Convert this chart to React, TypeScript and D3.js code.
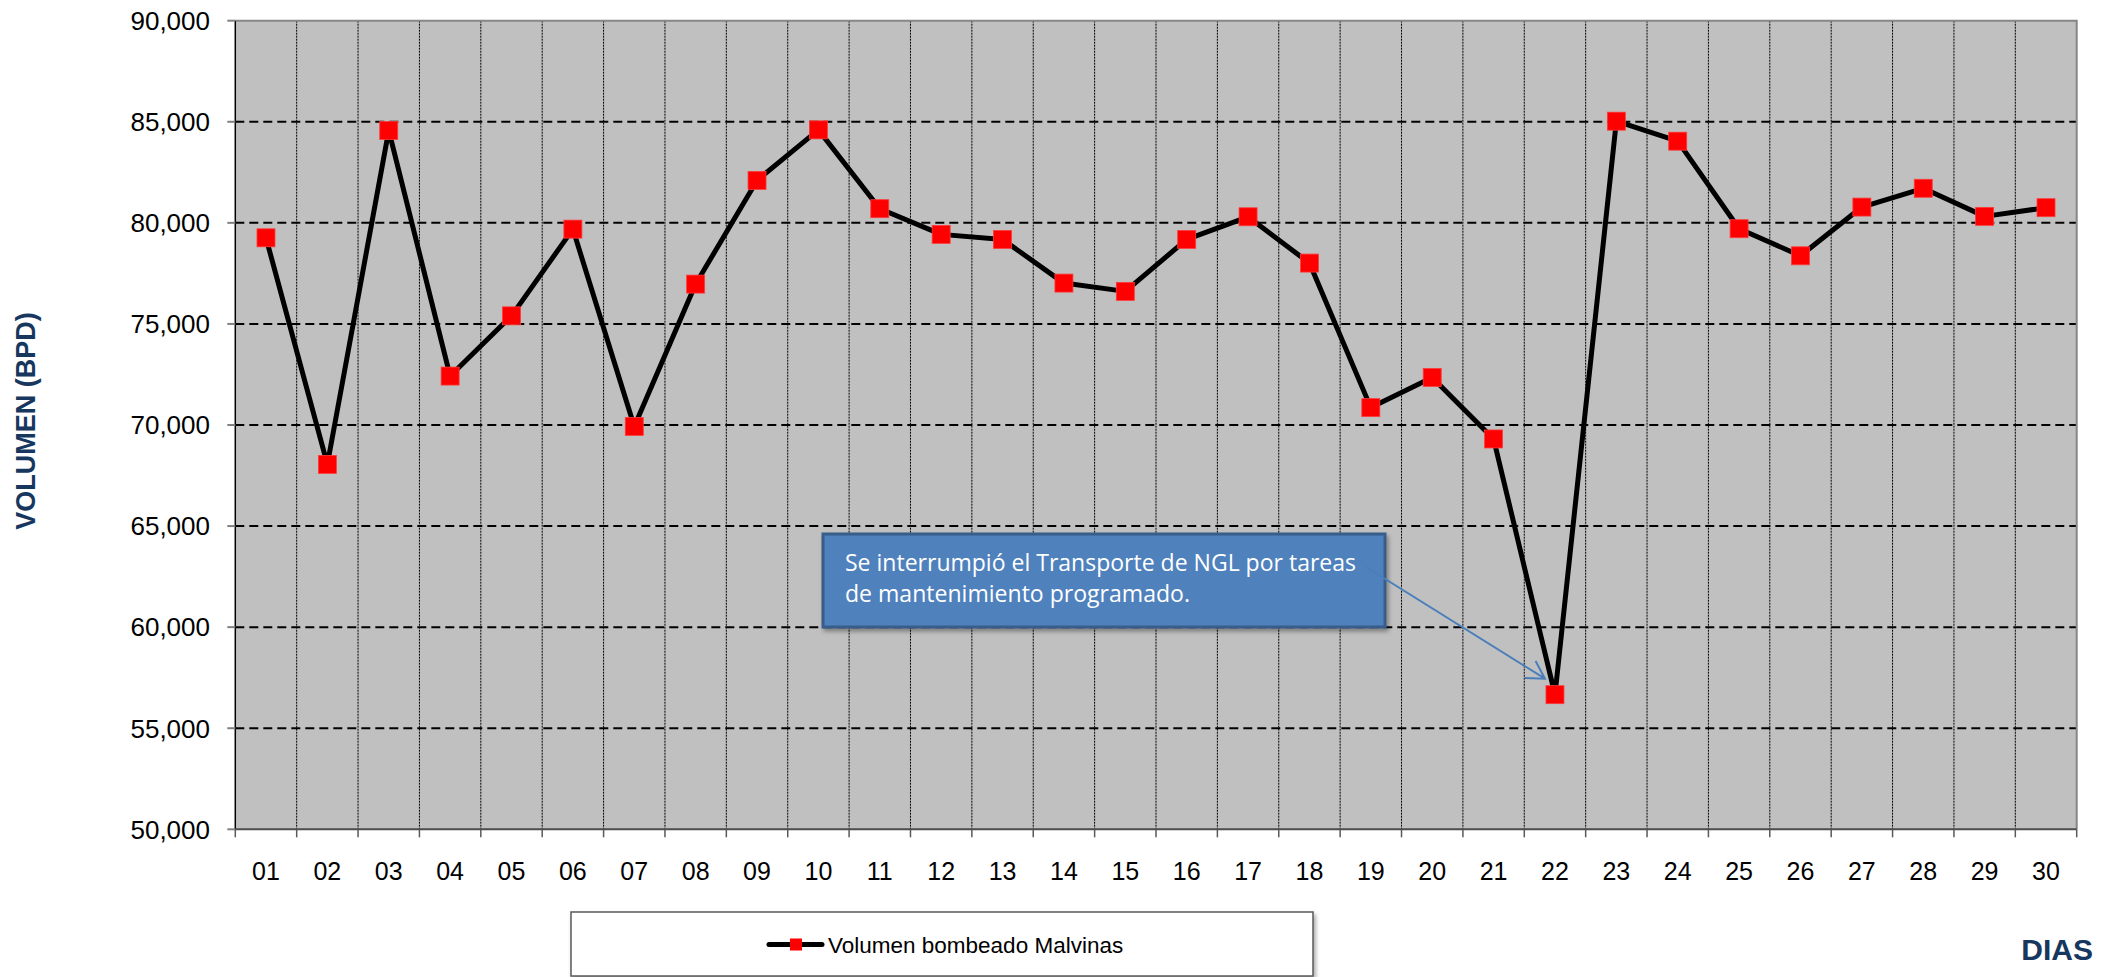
import React, { useEffect, useRef } from "react"
import * as d3 from "d3"

const dias = [
  "01", "02", "03", "04", "05", "06", "07", "08", "09", "10",
  "11", "12", "13", "14", "15", "16", "17", "18", "19", "20",
  "21", "22", "23", "24", "25", "26", "27", "28", "29", "30"
]

const volumen = [
  79260, 68050, 84570, 72420, 75400, 79690, 69930, 76970, 82100, 84600,
  80700, 79430, 79180, 77020, 76610, 79180, 80300, 78010, 70860, 72350,
  69310, 56660, 85030, 84040, 79710, 78370, 80780, 81710, 80320, 80750
]

const yTicks = [50000, 55000, 60000, 65000, 70000, 75000, 80000, 85000, 90000]

const serieNombre = "Volumen bombeado Malvinas"
const nota = [
  "Se interrumpió el Transporte de NGL por tareas",
  "de mantenimiento programado."
]
const notaDia = "22"

const FONT = "'Liberation Sans', Arial, sans-serif"

export default function App() {
  const ref = useRef<SVGSVGElement>(null)

  useEffect(() => {
    document.body.style.margin = "0"
    const w = 2111
    const h = 977
    const left = 235.3
    const right = 2076.7
    const top = 20.7
    const bottom = 829.3

    const svg = d3.select(ref.current)
    svg.selectAll("*").remove()
    svg.attr("width", w).attr("height", h)

    const x = d3.scaleBand().domain(dias).range([left, right]).padding(0)
    const y = d3.scaleLinear().domain([50000, 90000]).range([bottom, top])
    const cx = (d: string) => (x(d) as number) + x.bandwidth() / 2

    // plot background
    svg.append("rect")
      .attr("x", left).attr("y", top)
      .attr("width", right - left).attr("height", bottom - top)
      .attr("fill", "#c0c0c0")

    // vertical dotted grid at category boundaries
    svg.append("g")
      .selectAll("line")
      .data(dias.slice(1))
      .enter()
      .append("line")
      .attr("x1", d => x(d) as number).attr("x2", d => x(d) as number)
      .attr("y1", top).attr("y2", bottom)
      .attr("stroke", "#000")
      .attr("stroke-width", 1)
      .attr("stroke-dasharray", "2,1")

    // horizontal dashed grid
    svg.append("g")
      .selectAll("line")
      .data(yTicks.slice(1, -1))
      .enter()
      .append("line")
      .attr("x1", left).attr("x2", right)
      .attr("y1", d => y(d)).attr("y2", d => y(d))
      .attr("stroke", "#000")
      .attr("stroke-width", 2)
      .attr("stroke-dasharray", "9,5")

    // border top / right
    svg.append("path")
      .attr("d", `M${left},${top}H${right}V${bottom}`)
      .attr("fill", "none")
      .attr("stroke", "#868686")
      .attr("stroke-width", 2)

    // y axis
    const yAxis = svg.append("g")
    yAxis.append("line")
      .attr("x1", left).attr("x2", left).attr("y1", top).attr("y2", bottom)
      .attr("stroke", "#000").attr("stroke-width", 1.5)
    yAxis.selectAll("line.tick")
      .data(yTicks)
      .enter()
      .append("line")
      .attr("class", "tick")
      .attr("x1", left - 8).attr("x2", left)
      .attr("y1", d => y(d)).attr("y2", d => y(d))
      .attr("stroke", "#808080").attr("stroke-width", 2)
    yAxis.selectAll("text")
      .data(yTicks)
      .enter()
      .append("text")
      .attr("x", 210)
      .attr("y", d => y(d) + 9.3)
      .attr("text-anchor", "end")
      .attr("font-family", FONT)
      .attr("font-size", 26)
      .attr("fill", "#000")
      .text(d => d3.format(",")(d))

    // x axis
    const xAxis = svg.append("g")
    xAxis.append("line")
      .attr("x1", left).attr("x2", right).attr("y1", bottom).attr("y2", bottom)
      .attr("stroke", "#4d4d4d").attr("stroke-width", 2)
    xAxis.selectAll("line.tick")
      .data(dias.concat(["end"]))
      .enter()
      .append("line")
      .attr("class", "tick")
      .attr("x1", (d, i) => left + i * x.bandwidth())
      .attr("x2", (d, i) => left + i * x.bandwidth())
      .attr("y1", bottom).attr("y2", bottom + 8)
      .attr("stroke", "#595959").attr("stroke-width", 1.5)
    xAxis.selectAll("text")
      .data(dias)
      .enter()
      .append("text")
      .attr("x", d => cx(d))
      .attr("y", 880)
      .attr("text-anchor", "middle")
      .attr("font-family", FONT)
      .attr("font-size", 25)
      .attr("fill", "#000")
      .text(d => d)

    // series line
    const line = d3.line<number>()
      .x((d, i) => cx(dias[i]))
      .y(d => y(d))
    svg.append("path")
      .datum(volumen)
      .attr("d", line)
      .attr("fill", "none")
      .attr("stroke", "#000")
      .attr("stroke-width", 5)
      .attr("stroke-linejoin", "round")

    // markers
    const ms = 18
    svg.append("g")
      .selectAll("rect")
      .data(volumen)
      .enter()
      .append("rect")
      .attr("x", (d, i) => cx(dias[i]) - ms / 2)
      .attr("y", d => y(d) - ms / 2)
      .attr("width", ms).attr("height", ms)
      .attr("fill", "#ff0000")
      .attr("stroke", "#ff3b3b").attr("stroke-width", 0.8)

    // annotation callout
    const defs = svg.append("defs")
    const f = defs.append("filter").attr("id", "sh").attr("x", "-10%").attr("y", "-10%").attr("width", "130%").attr("height", "140%")
    f.append("feDropShadow").attr("dx", 2).attr("dy", 3).attr("stdDeviation", 2).attr("flood-color", "#000").attr("flood-opacity", 0.35)

    svg.append("rect")
      .attr("x", 823).attr("y", 534)
      .attr("width", 562).attr("height", 93)
      .attr("fill", "#4f81bd")
      .attr("stroke", "#385d8a").attr("stroke-width", 3)
      .attr("filter", "url(#sh)")
    nota.forEach((t, i) => {
      svg.append("text")
        .attr("x", 845)
        .attr("y", 571 + i * 30.5)
        .attr("font-family", "'Open Sans', 'Noto Sans', sans-serif")
        .attr("font-size", 24)
        .attr("fill", "#fff")
        .attr("textLength", i === 0 ? 511 : 345)
        .attr("lengthAdjust", "spacingAndGlyphs")
        .text(t)
    })

    const vNota = volumen[dias.indexOf(notaDia)]
    const tipX = cx(notaDia) - 10
    const tipY = y(vNota) - 16
    const sx = 1366
    const sy = 567
    const ang = Math.atan2(tipY - sy, tipX - sx)
    const al = 20
    const a1 = ang + Math.PI / 6
    const a2 = ang - Math.PI / 6
    svg.append("path")
      .attr("d", `M${sx},${sy}L${tipX},${tipY}M${tipX - al * Math.cos(a1)},${tipY - al * Math.sin(a1)}L${tipX},${tipY}L${tipX - al * Math.cos(a2)},${tipY - al * Math.sin(a2)}`)
      .attr("fill", "none")
      .attr("stroke", "#4a7ebb")
      .attr("stroke-width", 2)

    // axis titles
    svg.append("text")
      .attr("transform", "translate(35,421) rotate(-90)")
      .attr("text-anchor", "middle")
      .attr("font-family", FONT)
      .attr("font-weight", "bold")
      .attr("font-size", 27)
      .attr("fill", "#17375e")
      .text("VOLUMEN (BPD)")
    svg.append("text")
      .attr("x", 2093)
      .attr("y", 960)
      .attr("text-anchor", "end")
      .attr("font-family", FONT)
      .attr("font-weight", "bold")
      .attr("font-size", 30)
      .attr("fill", "#17375e")
      .text("DIAS")

    // legend
    const lg = svg.append("g")
    lg.append("rect")
      .attr("x", 571).attr("y", 912)
      .attr("width", 742).attr("height", 64)
      .attr("fill", "#fff")
      .attr("stroke", "#595959").attr("stroke-width", 1.5)
      .attr("filter", "url(#sh)")
    lg.append("line")
      .attr("x1", 769).attr("x2", 822).attr("y1", 944.5).attr("y2", 944.5)
      .attr("stroke", "#000").attr("stroke-width", 5).attr("stroke-linecap", "round")
    lg.append("rect")
      .attr("x", 790).attr("y", 938.5).attr("width", 12).attr("height", 12)
      .attr("fill", "#ff0000")
    lg.append("text")
      .attr("x", 828).attr("y", 953)
      .attr("font-family", FONT)
      .attr("font-size", 22.5)
      .attr("fill", "#000")
      .text(serieNombre)
  }, [])

  return <svg ref={ref} style={{ position: "absolute", left: 0, top: 0, display: "block" }} />
}
